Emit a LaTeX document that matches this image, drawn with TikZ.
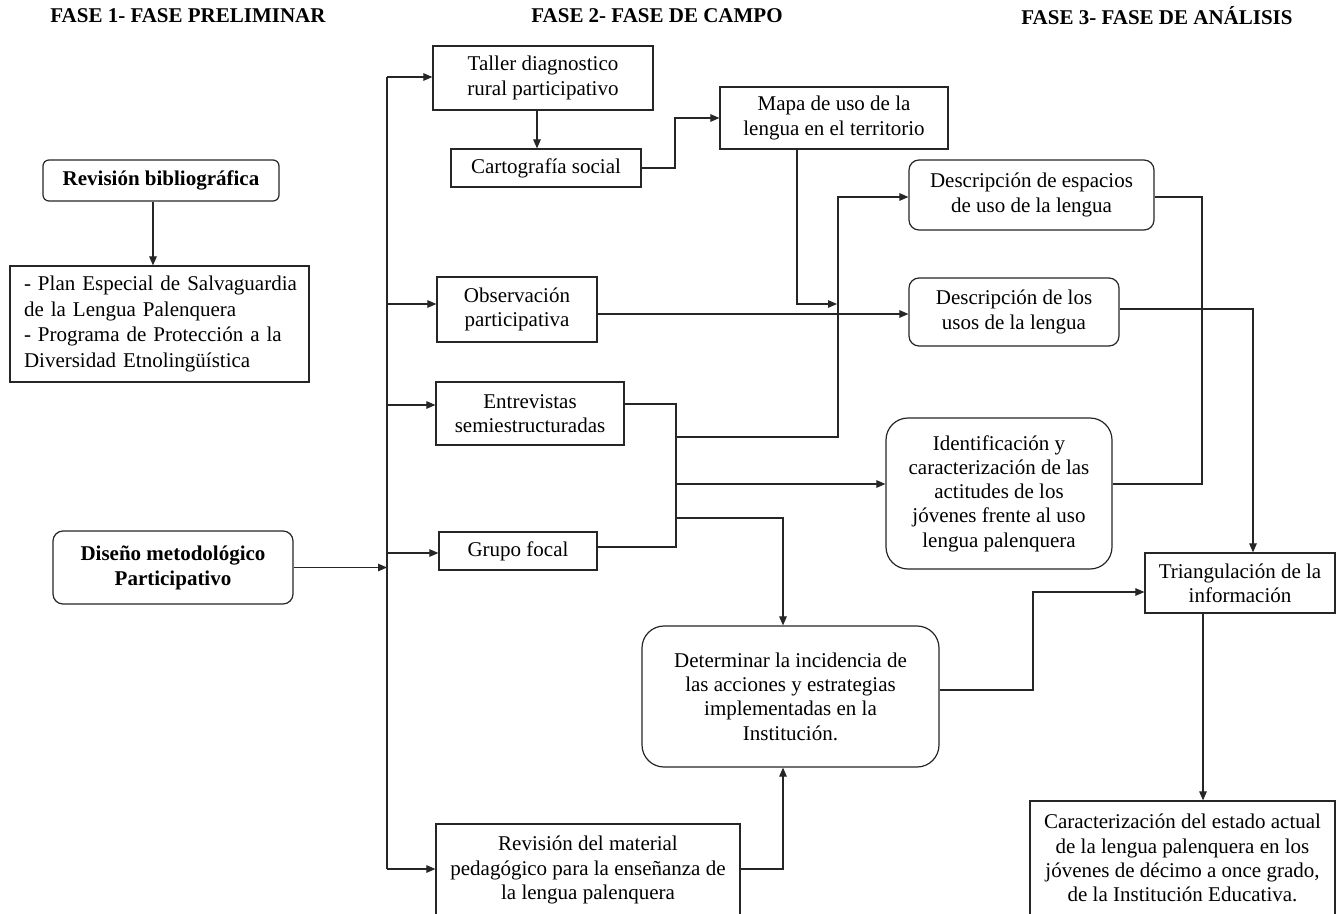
\documentclass[tikz,border=0pt]{standalone}
\usepackage{fontspec}
\setmainfont{Liberation Serif}
\usetikzlibrary{arrows.meta}
\newcommand{\bxfont}{\fontsize{21}{24.3}\selectfont}
\tikzset{
  ln/.style={draw=black!85, line width=1.1pt},
  arr/.style={ln, -{Triangle[length=9pt,width=7.5pt]}},
  box/.style={draw=black!85, line width=1.2pt, inner sep=0pt, align=center, font=\bxfont},
  rbox/.style={box, rounded corners=#1},
  rbox/.default=10pt,
  ttl/.style={inner sep=0pt, font=\fontsize{21}{24}\selectfont\bfseries}
}
\begin{document}
\begin{tikzpicture}[x=1pt,y=-1pt]
\useasboundingbox (0,0) rectangle (1344,913);
\clip (0,0) rectangle (1344,913);
\fill[white] (0,0) rectangle (1344,913);

% titles
\node[ttl] (t1) at (188,16) {FASE 1- FASE PRELIMINAR};
\node[ttl] (t2) at (657,16) {FASE 2- FASE DE CAMPO};
\node[ttl] (t3) at (1157,16) {FASE 3- FASE DE ANÁLISIS};

% phase 1
\node[rbox=6pt, minimum width=236pt, minimum height=41pt, font=\bxfont\bfseries] (revbib) at (161,180.5) {Revisión bibliográfica};
\node[box, minimum width=299pt, minimum height=116pt, text width=271pt, align=left, font=\fontsize{21}{25.8}\selectfont] (plan) at (159.5,324)
  {\makebox[271pt][s]{- Plan Especial de Salvaguardia}\\de la Lengua Palenquera\\\makebox[271pt][s]{- Programa de Protección a la}\\Diversidad Etnolingüística};
\node[rbox=10pt, minimum width=240pt, minimum height=73pt, font=\fontsize{21}{25}\selectfont\bfseries] (diseno) at (173,567.5) {Diseño metodológico\\Participativo};

% phase 2
\node[box, minimum width=220pt, minimum height=64pt] (taller) at (543,78) {Taller diagnostico\\rural participativo};
\node[box, minimum width=190pt, minimum height=38pt] (carto) at (546,168) {Cartografía social};
\node[box, minimum width=228pt, minimum height=62pt] (mapa) at (834,118) {Mapa de uso de la\\lengua en el territorio};
\node[box, minimum width=160pt, minimum height=65pt] (obs) at (517,309.5) {Observación\\participativa};
\node[box, minimum width=188pt, minimum height=63pt] (entrev) at (530,413.5) {Entrevistas\\semiestructuradas};
\node[box, minimum width=158pt, minimum height=38pt] (grupo) at (518,551) {Grupo focal};
\node[box, minimum width=304pt, minimum height=92pt] (revmat) at (588,870) {Revisión del material\\pedagógico para la enseñanza de\\la lengua palenquera};
\node[rbox=22pt, minimum width=297pt, minimum height=141pt] (deter) at (790.5,696.5) {Determinar la incidencia de\\las acciones y estrategias\\implementadas en la\\Institución.};

% phase 3
\node[rbox=10pt, minimum width=245pt, minimum height=70pt] (descesp) at (1031.5,195) {Descripción de espacios\\de uso de la lengua};
\node[rbox=10pt, minimum width=210pt, minimum height=68pt] (descusos) at (1014,312) {Descripción de los\\usos de la lengua};
\node[rbox=22pt, minimum width=226pt, minimum height=151pt] (ident) at (999,493.5) {Identificación y\\caracterización de las\\actitudes de los\\jóvenes frente al uso\\lengua palenquera};
\node[box, minimum width=190pt, minimum height=60pt] (triang) at (1240,583) {Triangulación de la\\información};
\node[box, minimum width=305pt, minimum height=114pt] (caract) at (1182.5,858) {Caracterización del estado actual\\de la lengua palenquera en los\\jóvenes de décimo a once grado,\\de la Institución Educativa.};

% bus
\coordinate (busT) at (387,77);
\coordinate (busB) at (387,869);
\coordinate (bObs) at (387,304);
\coordinate (bEnt) at (387,405);
\coordinate (bGru) at (387,553);
\draw[ln] (busT) -- (busB);
\draw[arr] (busT) -- (busT -| taller.west);
\draw[arr] (bObs) -- (bObs -| obs.west);
\draw[arr] (bEnt) -- (bEnt -| entrev.west);
\draw[arr] (bGru) -- (bGru -| grupo.west);
\draw[arr] (busB) -- (busB -| revmat.west);
\draw[arr] (diseno.east) -- (diseno.east -| busT);

% phase 1 link
\coordinate (rb) at (153,0);
\draw[arr] (rb |- revbib.south) -- (rb |- plan.north);

% taller -> carto -> mapa
\coordinate (tc) at (537,0);
\draw[arr] (tc |- taller.south) -- (tc |- carto.north);
\coordinate (cm) at (675,0);
\draw[arr] (carto.east) -- (carto.east -| cm) -- (cm |- mapa.west) -- (mapa.west);

% mapa down
\coordinate (md) at (797,304);
\coordinate (vx) at (837,304);
\draw[arr] (md |- mapa.south) -- (md) -- (vx);

% observacion -> descripcion usos
\coordinate (ou) at (0,314);
\draw[arr] (obs.east |- ou) -- (descusos.west |- ou);

% junction of entrevistas / grupo focal
\coordinate (Jt) at (676,404);
\coordinate (Jb) at (676,547);
\draw[ln] (entrev.east |- Jt) -- (Jt) -- (Jb) -- (Jb -| grupo.east);
\coordinate (J1) at (676,437);
\coordinate (V1) at (838,437);
\coordinate (V2) at (838,197);
\draw[arr] (J1) -- (V1) -- (V2) -- (V2 -| descesp.west);
\coordinate (J2) at (676,484);
\draw[arr] (J2) -- (J2 -| ident.west);
\coordinate (J3) at (676,518);
\coordinate (D1) at (783,518);
\draw[arr] (J3) -- (D1) -- (D1 |- deter.north);
\coordinate (D2) at (783,869);
\draw[arr] (revmat.east |- D2) -- (D2) -- (D2 |- deter.south);

% determinar -> triangulacion
\coordinate (E1) at (1033,690);
\coordinate (E2) at (1033,592);
\draw[arr] (deter.east |- E1) -- (E1) -- (E2) -- (E2 -| triang.west);

% descripcion espacios -> identificacion
\coordinate (R1) at (1202,197);
\coordinate (R2) at (1202,484);
\draw[ln] (descesp.east |- R1) -- (R1) -- (R2) -- (R2 -| ident.east);

% descripcion usos -> triangulacion
\coordinate (U1) at (1253,309);
\draw[arr] (descusos.east |- U1) -- (U1) -- (U1 |- triang.north);

% triangulacion -> caracterizacion
\coordinate (T1) at (1203,0);
\draw[arr] (T1 |- triang.south) -- (T1 |- caract.north);
\end{tikzpicture}
\end{document}
